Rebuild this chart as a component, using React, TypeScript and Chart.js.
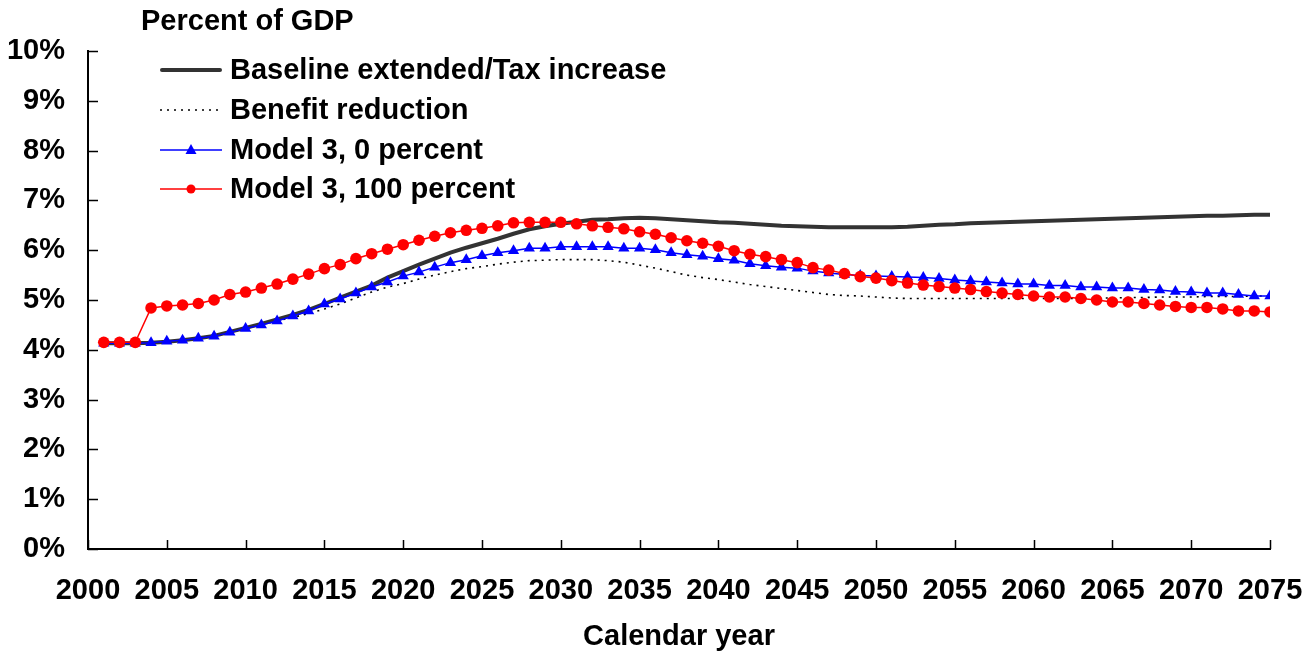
import React, { useEffect, useRef } from "react";
import { Chart, registerables } from "chart.js";

Chart.register(...registerables);

const startYear = 2001;
const years: number[] = Array.from({ length: 75 }, (_, i) => startYear + i);

const seriesNames = [
  "Baseline extended/Tax increase",
  "Benefit reduction",
  "Model 3, 0 percent",
  "Model 3, 100 percent",
];

// 2001 .. 2075
const baseline = [
  4.13, 4.13, 4.13, 4.14, 4.16, 4.19, 4.23, 4.28, 4.36, 4.44,
  4.52, 4.61, 4.70, 4.80, 4.92, 5.05, 5.17, 5.29, 5.45, 5.58,
  5.71, 5.83, 5.95, 6.05, 6.14, 6.23, 6.33, 6.42, 6.48, 6.53,
  6.57, 6.61, 6.62, 6.64, 6.65, 6.64, 6.62, 6.60, 6.58, 6.56,
  6.55, 6.53, 6.51, 6.49, 6.48, 6.47, 6.46, 6.46, 6.46, 6.46,
  6.46, 6.47, 6.49, 6.51, 6.52, 6.54, 6.55, 6.56, 6.57, 6.58,
  6.59, 6.60, 6.61, 6.62, 6.63, 6.64, 6.65, 6.66, 6.67, 6.68,
  6.69, 6.69, 6.70, 6.71, 6.71,
];

const benefitReduction = [
  4.13, 4.13, 4.13, 4.14, 4.16, 4.19, 4.23, 4.28, 4.35, 4.43,
  4.50, 4.58, 4.65, 4.73, 4.82, 4.92, 5.04, 5.16, 5.26, 5.33,
  5.42, 5.50, 5.57, 5.63, 5.67, 5.72, 5.76, 5.79, 5.80, 5.81,
  5.81, 5.81, 5.79, 5.76, 5.70, 5.64, 5.57, 5.50, 5.45, 5.41,
  5.36, 5.31, 5.27, 5.23, 5.19, 5.15, 5.11, 5.09, 5.08, 5.06,
  5.04, 5.03, 5.03, 5.03, 5.03, 5.03, 5.03, 5.03, 5.03, 5.03,
  5.03, 5.03, 5.03, 5.04, 5.04, 5.05, 5.05, 5.06, 5.06, 5.06,
  5.07, 5.07, 5.07, 5.08, 5.08,
];

const model3Zero = [
  4.13, 4.13, 4.13, 4.14, 4.17, 4.19, 4.23, 4.27, 4.35, 4.43,
  4.50, 4.58, 4.68, 4.78, 4.92, 5.02, 5.14, 5.26, 5.36, 5.48,
  5.56, 5.66, 5.75, 5.81, 5.89, 5.95, 5.99, 6.04, 6.04, 6.07,
  6.07, 6.07, 6.07, 6.04, 6.04, 6.01, 5.95, 5.91, 5.88, 5.83,
  5.80, 5.73, 5.69, 5.66, 5.64, 5.58, 5.54, 5.51, 5.49, 5.48,
  5.47, 5.46, 5.45, 5.43, 5.40, 5.38, 5.36, 5.34, 5.32, 5.32,
  5.29, 5.29, 5.26, 5.26, 5.24, 5.24, 5.21, 5.20, 5.17, 5.16,
  5.14, 5.14, 5.11, 5.08, 5.08,
];

const model3Hundred = [
  4.15, 4.15, 4.15, 4.84, 4.88, 4.90, 4.93, 5.00, 5.11, 5.16,
  5.24, 5.32, 5.42, 5.52, 5.63, 5.71, 5.83, 5.93, 6.02, 6.11,
  6.20, 6.28, 6.35, 6.40, 6.44, 6.49, 6.55, 6.56, 6.56, 6.56,
  6.53, 6.49, 6.46, 6.43, 6.37, 6.32, 6.25, 6.19, 6.14, 6.08,
  5.99, 5.92, 5.87, 5.81, 5.75, 5.65, 5.60, 5.53, 5.47, 5.44,
  5.39, 5.34, 5.30, 5.27, 5.24, 5.21, 5.17, 5.14, 5.11, 5.08,
  5.06, 5.06, 5.03, 5.00, 4.96, 4.96, 4.93, 4.90, 4.87, 4.85,
  4.85, 4.82, 4.78, 4.78, 4.76,
];

const xTickYears = [2000, 2005, 2010, 2015, 2020, 2025, 2030, 2035, 2040, 2045, 2050, 2055, 2060, 2065, 2070, 2075];
const yTickValues = [0, 1, 2, 3, 4, 5, 6, 7, 8, 9, 10];
const yAxisTitle = "Percent of GDP";
const xAxisTitle = "Calendar year";

const FAMILY = "'Liberation Sans', Arial, Helvetica, sans-serif";
const FONT = `bold 29px ${FAMILY}`;

const pts = (vals: number[]) => years.map((y, i) => ({ x: y, y: vals[i] }));

export default function App() {
  const ref = useRef<HTMLCanvasElement>(null);

  useEffect(() => {
    const canvas = ref.current;
    if (!canvas) return;

    const inwardTicks = {
      id: "inwardTicks",
      afterDatasetsDraw(chart: any) {
        const { ctx, chartArea, scales } = chart;
        ctx.save();
        ctx.strokeStyle = "#000";
        ctx.lineWidth = 1.5;
        ctx.beginPath();
        yTickValues.forEach((v) => {
          const y = Math.round(scales.y.getPixelForValue(v)) + 0.5;
          ctx.moveTo(chartArea.left, y);
          ctx.lineTo(chartArea.left + 10, y);
        });
        xTickYears.forEach((v) => {
          const x = Math.round(scales.x.getPixelForValue(v)) + 0.5;
          ctx.moveTo(x, chartArea.bottom);
          ctx.lineTo(x, chartArea.bottom - 9);
        });
        ctx.stroke();
        ctx.restore();
      },
    };

    const legendAndTitles = {
      id: "legendAndTitles",
      afterDraw(chart: any) {
        const { ctx, chartArea } = chart;
        ctx.save();
        ctx.font = FONT;
        ctx.fillStyle = "#000";
        ctx.textBaseline = "middle";
        ctx.textAlign = "left";
        ctx.fillText(yAxisTitle, 141, 22);
        ctx.textAlign = "center";
        ctx.fillText(xAxisTitle, (chartArea.left + chartArea.right) / 2, 637);

        const rows = [70, 110, 150, 189];
        const x0 = 160;
        const x1 = 222;
        const xm = (x0 + x1) / 2;
        // baseline
        ctx.lineCap = "round";
        ctx.strokeStyle = "#333333";
        ctx.lineWidth = 4;
        ctx.beginPath();
        ctx.moveTo(x0 + 2, rows[0]);
        ctx.lineTo(x1 - 2, rows[0]);
        ctx.stroke();
        ctx.lineCap = "butt";
        // benefit
        ctx.strokeStyle = "#000";
        ctx.lineWidth = 1.6;
        ctx.setLineDash([2, 5]);
        ctx.beginPath();
        ctx.moveTo(x0, rows[1]);
        ctx.lineTo(x1, rows[1]);
        ctx.stroke();
        ctx.setLineDash([]);
        // blue
        ctx.strokeStyle = "#0000ff";
        ctx.lineWidth = 1.5;
        ctx.beginPath();
        ctx.moveTo(x0, rows[2]);
        ctx.lineTo(x1, rows[2]);
        ctx.stroke();
        ctx.fillStyle = "#0000ff";
        ctx.beginPath();
        ctx.moveTo(xm, rows[2] - 6);
        ctx.lineTo(xm + 5.5, rows[2] + 4);
        ctx.lineTo(xm - 5.5, rows[2] + 4);
        ctx.closePath();
        ctx.fill();
        // red
        ctx.strokeStyle = "#ff0000";
        ctx.beginPath();
        ctx.moveTo(x0, rows[3]);
        ctx.lineTo(x1, rows[3]);
        ctx.stroke();
        ctx.fillStyle = "#ff0000";
        ctx.beginPath();
        ctx.arc(xm, rows[3], 4.5, 0, Math.PI * 2);
        ctx.fill();

        ctx.fillStyle = "#000";
        ctx.textAlign = "left";
        seriesNames.forEach((name, i) => {
          ctx.fillText(name, 230, rows[i] + 1);
        });
        ctx.restore();
      },
    };

    const chart = new Chart(canvas, {
      type: "line",
      data: {
        datasets: [
          {
            label: seriesNames[0],
            data: pts(baseline),
            borderColor: "#333333",
            borderWidth: 4,
            pointRadius: 0,
            tension: 0,
            order: 2,
          },
          {
            label: seriesNames[1],
            data: pts(benefitReduction),
            borderColor: "#000000",
            borderWidth: 1.6,
            borderDash: [2, 5],
            pointRadius: 0,
            tension: 0,
            order: 3,
          },
          {
            label: seriesNames[2],
            data: pts(model3Zero),
            borderColor: "#0000ff",
            backgroundColor: "#0000ff",
            borderWidth: 1.5,
            pointStyle: "triangle",
            pointRadius: 6.5,
            pointBorderWidth: 0,
            tension: 0,
            order: 1,
          },
          {
            label: seriesNames[3],
            data: pts(model3Hundred),
            borderColor: "#ff0000",
            backgroundColor: "#ff0000",
            borderWidth: 1.5,
            pointStyle: "circle",
            pointRadius: 5.8,
            pointBorderWidth: 0,
            tension: 0,
            order: 0,
          },
        ],
      },
      options: {
        responsive: false,
        animation: false,
        events: [],
        layout: { padding: { top: 51, right: 45, left: 0, bottom: 0 } },
        plugins: {
          legend: { display: false },
          tooltip: { enabled: false },
          title: { display: false },
        },
        scales: {
          x: {
            type: "linear",
            min: 2000,
            max: 2075,
            afterFit: (s: any) => {
              s.height = 106;
              s.paddingLeft = 0;
              s.paddingRight = 0;
            },
            afterBuildTicks: (s: any) => {
              s.ticks = xTickYears.map((v) => ({ value: v }));
            },
            ticks: {
              stepSize: 5,
              autoSkip: false,
              maxRotation: 0,
              color: "#000",
              font: { family: FAMILY, size: 29, weight: "bold" },
              padding: 25,
              callback: (v: any) => String(v),
            },
            grid: { display: true, drawOnChartArea: false, drawTicks: false },
            border: { display: true, color: "#000", width: 2 },
          },
          y: {
            min: 0,
            max: 10,
            afterFit: (s: any) => {
              s.width = 88;
              s.paddingTop = 0;
              s.paddingBottom = 0;
            },
            afterBuildTicks: (s: any) => {
              s.ticks = yTickValues.map((v) => ({ value: v }));
            },
            ticks: {
              stepSize: 1,
              color: "#000",
              font: { family: FAMILY, size: 29, weight: "bold" },
              padding: 23,
              callback: (v: any) => `${v}%`,
            },
            grid: { display: true, drawOnChartArea: false, drawTicks: false },
            border: { display: true, color: "#000", width: 2 },
          },
        },
      },
      plugins: [inwardTicks, legendAndTitles],
    } as any);

    return () => chart.destroy();
  }, []);

  return (
    <div style={{ position: "absolute", left: 0, top: 0, width: 1315, height: 655, background: "#fff" }}>
      <canvas ref={ref} width={1315} height={655} style={{ display: "block" }} />
    </div>
  );
}
